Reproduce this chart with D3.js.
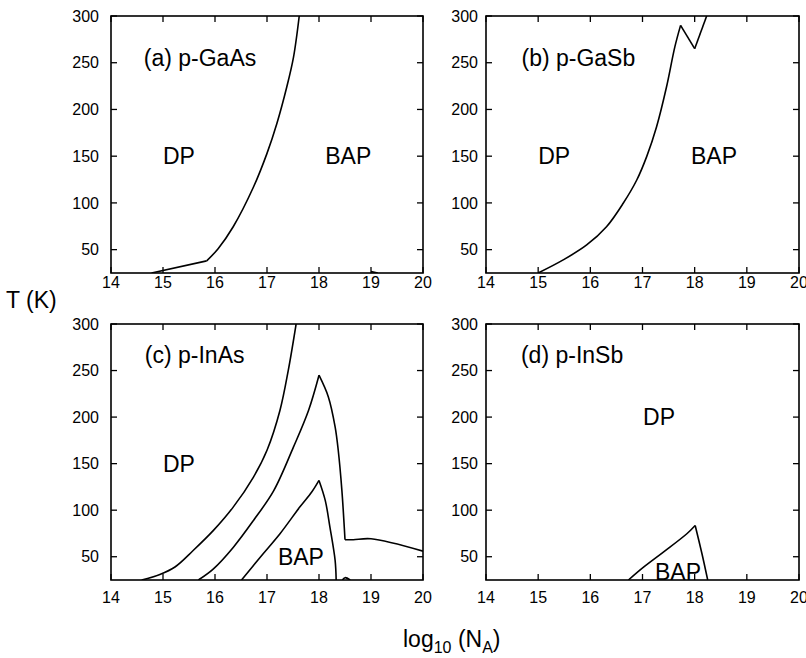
<!DOCTYPE html>
<meta charset="utf-8">
<title>DP / BAP phase diagrams</title>
<style>
  body { margin: 0; background: #fff; }
  svg { display: block; font-family: "Liberation Sans", Arial, Helvetica, sans-serif; }
  .frame { fill: none; stroke: #000; stroke-width: 1.6; }
  .tick { stroke: #000; stroke-width: 1.3; }
  .curve { fill: none; stroke: #000; stroke-width: 1.6; stroke-linejoin: miter; }
  .ticklabel { font-size: 16px; fill: #000; }
  .region { font-size: 23px; fill: #000; }
</style>
<body>
<script src="https://cdn.jsdelivr.net/npm/d3@7"></script>
<script>

var width = 806,
    height = 658,
    tickLen = 6;

// axis values
var xTicks = [14, 15, 16, 17, 18, 19, 20];
var yTicks = [50, 100, 150, 200, 250, 300];
var xDomain = [14, 20];
var yDomain = [25, 300];

// boundary curves, [log10(NA), T]; split where the line has a sharp corner
var gaasLow = [[14.78, 25], [15.84, 38]];
var gaasHigh = [[15.84, 38], [16.06, 51], [16.35, 74.5], [16.74, 117], [17.0, 153],
                [17.19, 185], [17.38, 224], [17.51, 256], [17.62, 300]];
var gaasTail = [[19.0, 26.5], [19.13, 25]];

var gasbRise = [[15.0, 25], [15.48, 39], [15.93, 55], [16.31, 74.5], [16.63, 99.6], [16.89, 124.5],
                [17.08, 149.5], [17.27, 181.5], [17.46, 224], [17.62, 267], [17.73, 290]];
var gasbNotchDown = [[17.73, 290], [18.0, 265]];
var gasbNotchUp = [[18.0, 265], [18.23, 300]];

var inasOuter = [[14.59, 25], [14.94, 31], [15.23, 39], [15.58, 56.7], [15.97, 78.3], [16.35, 103.3],
                 [16.74, 135.6], [17.0, 164.4], [17.25, 207.4], [17.41, 250.5], [17.56, 300]];
var inasMidRise = [[15.68, 25], [15.97, 37], [16.35, 60], [16.74, 89], [17.13, 121], [17.51, 168],
                   [17.80, 207.4], [18.0, 245]];
var inasMidFall = [[18.0, 245], [18.18, 221.7], [18.31, 189.5], [18.37, 164.4],
                   [18.44, 121.3], [18.50, 68.3]];
var inasMidTail = [[18.50, 68.3], [18.66, 68.3], [19.0, 69.3], [20.0, 56]];
var inasInRise = [[16.51, 25], [16.87, 49.5], [17.25, 74.7], [17.63, 103.3], [17.86, 119.5], [18.0, 132]];
var inasInFall = [[18.0, 132], [18.12, 110.6], [18.21, 81.8], [18.31, 46], [18.33, 25]];
var inasBump = [[18.45, 25], [18.5, 27.5], [18.6, 25]];

var insbRise = [[16.73, 25], [17.02, 38.8], [17.40, 55], [17.85, 74.7], [18.01, 83.6]];
var insbFall = [[18.01, 83.6], [18.14, 53.2], [18.25, 25]];

var panels = [
  { id: "a", left: 111, right: 423, top: 16, bottom: 273, xLabelDy: 15, yLabelGap: 12,
    curves: [gaasLow, gaasHigh, gaasTail],
    labels: [{ text: "(a) p-GaAs", x: 14.63, y: 246.5 }, { text: "DP", x: 15.0, y: 141.6 }, { text: "BAP", x: 18.12, y: 141.6 }] },
  { id: "b", left: 486, right: 799, top: 16, bottom: 273, xLabelDy: 15, yLabelGap: 8,
    curves: [gasbRise, gasbNotchDown, gasbNotchUp],
    labels: [{ text: "(b) p-GaSb", x: 14.68, y: 246.5 }, { text: "DP", x: 15.0, y: 141.6 }, { text: "BAP", x: 17.93, y: 141.6 }] },
  { id: "c", left: 111, right: 423, top: 324, bottom: 580, xLabelDy: 23, yLabelGap: 12,
    curves: [inasOuter, inasMidRise, inasMidFall, inasMidTail, inasInRise, inasInFall, inasBump],
    labels: [{ text: "(c) p-InAs", x: 14.65, y: 258 }, { text: "DP", x: 15.0, y: 141 }, { text: "BAP", x: 17.21, y: 40.6 }] },
  { id: "d", left: 486, right: 799, top: 324, bottom: 580, xLabelDy: 23, yLabelGap: 8,
    curves: [insbRise, insbFall],
    labels: [{ text: "(d) p-InSb", x: 14.67, y: 258 }, { text: "DP", x: 17.01, y: 191.3 }, { text: "BAP", x: 17.24, y: 25.5 }] }
];

var svg = d3.select("body").append("svg")
  .attr("width", width)
  .attr("height", height);

var defs = svg.append("defs");

panels.forEach(function (p) {
  var x = d3.scaleLinear().domain(xDomain).range([p.left, p.right]);
  var y = d3.scaleLinear().domain(yDomain).range([p.bottom, p.top]);
  var g = svg.append("g").attr("class", "panel panel-" + p.id);

  defs.append("clipPath").attr("id", "clip-" + p.id)
    .append("rect")
    .attr("x", p.left).attr("y", p.top)
    .attr("width", p.right - p.left).attr("height", p.bottom - p.top);

  // inward ticks on all four sides
  g.selectAll("line.xb").data(xTicks).enter().append("line")
    .attr("class", "tick")
    .attr("x1", x).attr("x2", x)
    .attr("y1", p.bottom).attr("y2", p.bottom - tickLen);
  g.selectAll("line.xt").data(xTicks).enter().append("line")
    .attr("class", "tick")
    .attr("x1", x).attr("x2", x)
    .attr("y1", p.top).attr("y2", p.top + tickLen);
  g.selectAll("line.yl").data(yTicks).enter().append("line")
    .attr("class", "tick")
    .attr("x1", p.left).attr("x2", p.left + tickLen)
    .attr("y1", y).attr("y2", y);
  g.selectAll("line.yr").data(yTicks).enter().append("line")
    .attr("class", "tick")
    .attr("x1", p.right).attr("x2", p.right - tickLen)
    .attr("y1", y).attr("y2", y);

  g.selectAll("text.xl").data(xTicks).enter().append("text")
    .attr("class", "ticklabel")
    .attr("x", x)
    .attr("y", p.bottom + p.xLabelDy)
    .attr("text-anchor", "middle")
    .text(function (d) { return d; });
  g.selectAll("text.yl").data(yTicks).enter().append("text")
    .attr("class", "ticklabel")
    .attr("x", p.left - p.yLabelGap)
    .attr("y", y)
    .attr("dy", "0.36em")
    .attr("text-anchor", "end")
    .text(function (d) { return d; });

  var line = d3.line()
    .curve(d3.curveCatmullRom.alpha(0.5))
    .x(function (d) { return x(d[0]); })
    .y(function (d) { return y(d[1]); });

  g.append("g").attr("clip-path", "url(#clip-" + p.id + ")")
    .selectAll("path").data(p.curves).enter().append("path")
    .attr("class", "curve")
    .attr("d", line);

  g.selectAll("text.region").data(p.labels).enter().append("text")
    .attr("class", "region")
    .attr("x", function (d) { return x(d.x); })
    .attr("y", function (d) { return y(d.y); })
    .text(function (d) { return d.text; });

  g.append("rect")
    .attr("class", "frame")
    .attr("x", p.left).attr("y", p.top)
    .attr("width", p.right - p.left).attr("height", p.bottom - p.top);
});

// shared axis titles
svg.append("text")
  .attr("class", "region")
  .attr("x", 6).attr("y", 308)
  .text("T (K)");

var xt = svg.append("text")
  .attr("class", "region")
  .attr("x", 403).attr("y", 647);
xt.append("tspan").text("log");
xt.append("tspan").attr("dy", 6).style("font-size", "16px").text("10");
xt.append("tspan").attr("dy", -6).text(" (N");
xt.append("tspan").attr("dy", 6).style("font-size", "16px").text("A");
xt.append("tspan").attr("dy", -6).text(")");

</script>
</body>
</html>
